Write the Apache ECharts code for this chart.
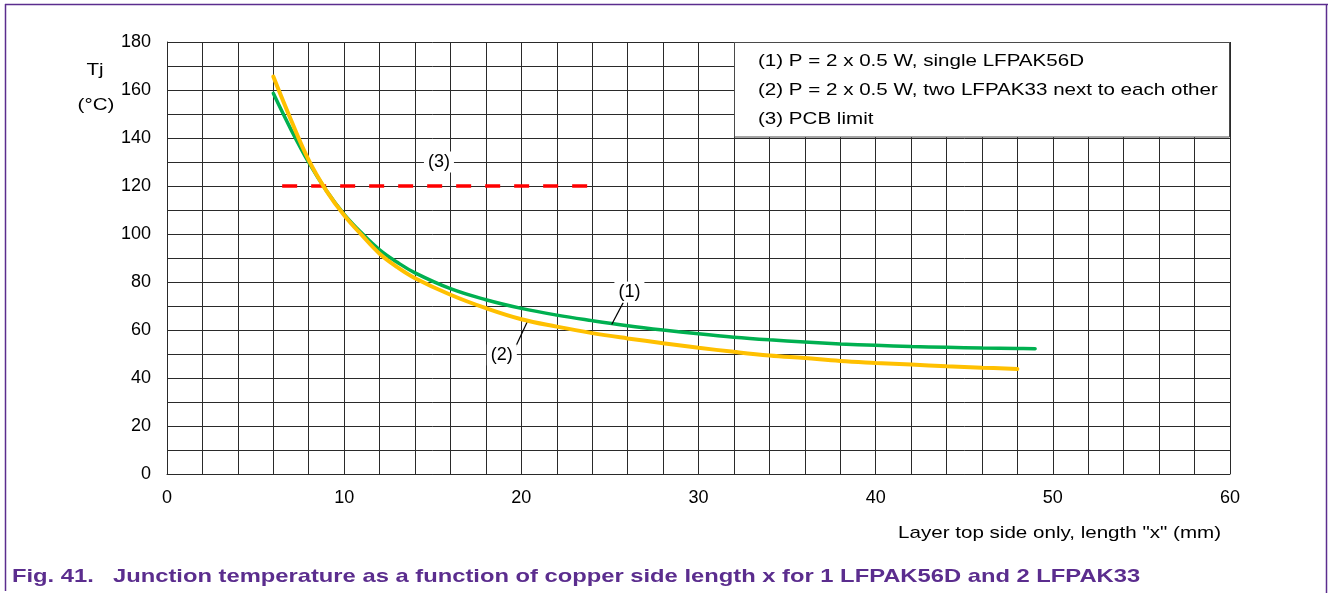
<!DOCTYPE html>
<html>
<head>
<meta charset="utf-8">
<script src="https://cdn.jsdelivr.net/npm/echarts@6/dist/echarts.min.js"></script>
<style>
html,body{margin:0;padding:0;background:#fff;}
#c{width:1328px;height:593px;}
</style>
</head>
<body>
<div id="c"></div>
<script>
// ---- data ----
const xSingle = [6, 7, 8, 9, 10, 11, 12, 13, 14, 16, 18, 20, 22, 24, 26, 28, 30, 32, 34, 36, 38, 40, 42, 44, 46, 48, 49];
const tjSingle = [158.6, 143.5, 129.8, 118, 108.2, 100.3, 93.4, 88.2, 83.8, 77.2, 72.6, 69, 66.2, 63.9, 61.8, 60, 58.4, 57, 55.9, 55, 54.2, 53.6, 53.1, 52.8, 52.5, 52.3, 52.2];
const xTwo = [6, 7, 8, 9, 10, 11, 12, 13, 14, 16, 18, 20, 22, 24, 26, 28, 30, 32, 34, 36, 38, 40, 42, 44, 46, 48];
const tjTwo = [165.6, 147.5, 130.8, 118, 107.8, 99.5, 91.8, 86.2, 81.6, 74.7, 69.1, 64.5, 61.4, 58.7, 56.5, 54.5, 52.6, 50.9, 49.4, 48.3, 47.1, 46.3, 45.6, 44.9, 44.3, 43.8];
const xLimit = [6.5, 24];
const tjLimit = [120, 120];
const legendLines = [
  '(1) P = 2 x 0.5 W, single LFPAK56D',
  '(2) P = 2 x 0.5 W, two LFPAK33 next to each other',
  '(3) PCB limit'
];
const xAxisTitle = 'Layer top side only, length "x" (mm)';
const yAxisTitle = ['Tj', '(°C)'];
const captionNum = 'Fig. 41.';
const captionText = 'Junction temperature as a function of copper side length x for 1 LFPAK56D and 2 LFPAK33';
// annotation anchors (data coordinates)
const ann1 = {label: [26.1, 75.8], from: [25.75, 71.4], to: [25.1, 62.3]};
const ann2 = {label: [18.9, 49.6], from: [19.65, 52.6], to: [20.35, 63.6]};
const ann3 = {label: [15.35, 130]};

const FONT = '"Liberation Sans", Arial, sans-serif';
const PURPLE = '#5b2d8e';
const GRID = '#2a2a2a';
const SX = 1.21;   // horizontal stretch of the reference text

function pairs(xs, ys){ return xs.map((x,i)=>[x, ys[i]]); }

const chart = echarts.init(document.getElementById('c'), null, {renderer:'canvas'});

function annLabel(text, coord){
  return {
    coord: coord, symbol: 'circle', symbolSize: 0,
    label: {show: true, position: 'inside', formatter: text, color: '#000',
      fontFamily: FONT, fontSize: 18, backgroundColor: '#fff', padding: [2, 4, 1, 4]}
  };
}
function leader(a){
  return [{coord: a.from}, {coord: a.to}];
}
function txt(x, y, text, opts){
  return Object.assign({type: 'text', x: x, y: y, scaleX: SX, silent: true,
    style: Object.assign({text: text, fill: '#000', font: '17px ' + FONT, textVerticalAlign: 'middle'}, opts || {})});
}

const option = {
  animation: false,
  backgroundColor: '#fff',
  grid: {left: 167, right: 98, top: 42, bottom: 119, containLabel: false},
  xAxis: {
    type: 'value', min: 0, max: 60, interval: 2,
    axisLine: {show: true, onZero: false, lineStyle: {color: GRID, width: 1}},
    axisTick: {show: false},
    splitLine: {show: true, lineStyle: {color: GRID, width: 1}},
    axisLabel: {
      color: '#000', fontFamily: FONT, fontSize: 18, margin: 15,
      formatter: v => (v % 10 === 0 ? String(v) : '')
    }
  },
  yAxis: {
    type: 'value', min: 0, max: 180, interval: 10,
    axisLine: {show: true, onZero: false, lineStyle: {color: GRID, width: 1}},
    axisTick: {show: false},
    splitLine: {show: true, lineStyle: {color: GRID, width: 1}},
    axisLabel: {
      color: '#000', fontFamily: FONT, fontSize: 18, margin: 16,
      formatter: v => (v % 20 === 0 ? String(v) : '')
    }
  },
  series: [
    {
      name: '(3)', type: 'line', data: pairs(xLimit, tjLimit), showSymbol: false, symbol: 'none',
      lineStyle: {color: '#ff0000', width: 3.5, type: [15, 14]}, z: 3,
      markPoint: {silent: true, data: [annLabel('(3)', ann3.label)]}
    },
    {
      name: '(1)', type: 'line', data: pairs(xSingle, tjSingle), smooth: 0.4,
      showSymbol: false, symbol: 'none',
      lineStyle: {color: '#00b050', width: 3.5, cap: 'round'}, z: 4,
      markPoint: {silent: true, data: [annLabel('(1)', ann1.label)]},
      markLine: {silent: true, symbol: ['none', 'none'], label: {show: false},
        lineStyle: {color: '#000', width: 1.2, type: 'solid'}, data: [leader(ann1)]}
    },
    {
      name: '(2)', type: 'line', data: pairs(xTwo, tjTwo), smooth: 0.4,
      showSymbol: false, symbol: 'none',
      lineStyle: {color: '#ffc000', width: 4, cap: 'round'}, z: 5,
      markPoint: {silent: true, data: [annLabel('(2)', ann2.label)]},
      markLine: {silent: true, symbol: ['none', 'none'], label: {show: false},
        lineStyle: {color: '#000', width: 1.2, type: 'solid'}, data: [leader(ann2)]}
    }
  ],
  graphic: [
    // outer figure frame
    {type: 'line', shape: {x1: 5, y1: 4.5, x2: 1328, y2: 4.5}, style: {stroke: PURPLE, lineWidth: 1.5}, silent: true},
    {type: 'line', shape: {x1: 5.5, y1: 4, x2: 5.5, y2: 591}, style: {stroke: PURPLE, lineWidth: 1.5}, silent: true},
    {type: 'line', shape: {x1: 1326.5, y1: 4, x2: 1326.5, y2: 593}, style: {stroke: PURPLE, lineWidth: 1.5}, silent: true},
    // legend box
    {type: 'rect', shape: {x: 734.5, y: 42.5, width: 495, height: 94.5}, style: {fill: '#fff', stroke: '#4a4a4a', lineWidth: 1}, z: 100, silent: true},
    Object.assign(txt(758, 61, legendLines[0]), {z: 101}),
    Object.assign(txt(758, 90, legendLines[1]), {z: 101}),
    Object.assign(txt(758, 119, legendLines[2]), {z: 101}),
    // y axis title
    txt(95, 70, yAxisTitle[0], {textAlign: 'center'}),
    txt(96, 105, yAxisTitle[1], {textAlign: 'center'}),
    // x axis title
    txt(1221, 533, xAxisTitle, {textAlign: 'right'}),
    // caption
    Object.assign(txt(12, 577, captionNum, {fill: PURPLE, font: 'bold 19px ' + FONT}), {scaleX: 1.25}),
    Object.assign(txt(113, 577, captionText, {fill: PURPLE, font: 'bold 19px ' + FONT}), {scaleX: 1.25})
  ]
};
chart.setOption(option);
</script>
</body>
</html>
